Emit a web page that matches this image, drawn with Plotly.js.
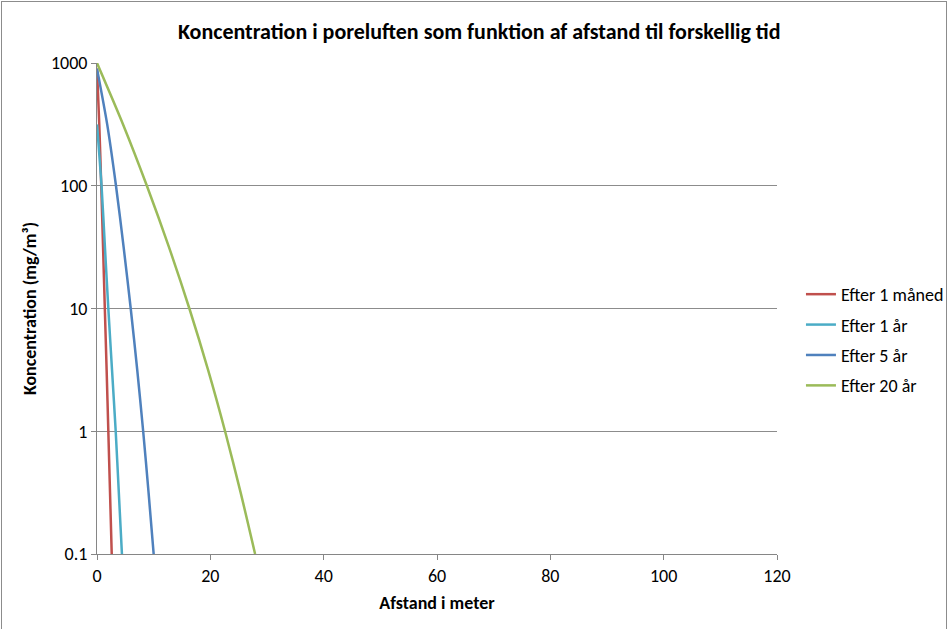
<!DOCTYPE html>
<html>
<head>
<meta charset="utf-8">
<script src="https://cdn.plot.ly/plotly-3.0.1.min.js"></script>
<style>
  html, body { margin: 0; padding: 0; background: #fff; }
  #wrap { position: relative; width: 949px; height: 629px; overflow: hidden; }
  #chart { width: 949px; height: 629px; }
  #frame { position: absolute; left: 1px; top: 1px; width: 944px; height: 640px; border: 1px solid #8c8c8c; pointer-events: none; }
</style>
</head>
<body>
<div id="wrap"><div id="chart"></div><div id="frame"></div></div>
<script>
// Series names
const seriesNames = ["Efter 1 måned", "Efter 1 år", "Efter 5 år", "Efter 20 år"];

// Distance (m) and concentration (mg/m³)
const xMaaned = [0, 0.4, 0.75, 1.07, 1.38, 1.7, 2.0, 2.3, 2.6];
const yMaaned = [900, 316, 100, 31.6, 10, 3.16, 1, 0.316, 0.1];

const xAar1 = [0, 0.8, 1.4, 2.0, 2.65, 3.3, 3.85, 4.4];
const yAar1 = [316, 100, 31.6, 10, 3.16, 1, 0.316, 0.1];

const xAar5 = [0, 1.8, 3.35, 4.7, 5.95, 7.1, 8.15, 9.1, 10.0];
const yAar5 = [900, 316, 100, 31.6, 10, 3.16, 1, 0.316, 0.1];

const xAar20 = [0, 4.6, 8.8, 12.7, 16.3, 19.6, 22.6, 25.35, 27.9];
const yAar20 = [1000, 316, 100, 31.6, 10, 3.16, 1, 0.316, 0.1];

const yTickVals = [0.1, 1, 10, 100, 1000];
const yTickText = ["0.1", "1", "10", "100", "1000"];
const xTickVals = [0, 20, 40, 60, 80, 100, 120];

const colors = ["#C0504D", "#4BACC6", "#4F81BD", "#9BBB59"];
const xs = [xMaaned, xAar1, xAar5, xAar20];
const ys = [yMaaned, yAar1, yAar5, yAar20];

const FONT = "Carlito, Calibri, 'Liberation Sans Narrow', 'Liberation Sans', sans-serif";

const traces = seriesNames.map((n, i) => ({
  type: "scatter",
  mode: "lines",
  name: n,
  legendgroup: "g" + i,
  x: xs[i],
  y: ys[i],
  line: { color: colors[i], width: 2.5, shape: "spline", smoothing: 0.8 },
  hoverinfo: "skip"
}));

const layout = {
  width: 949,
  height: 629,
  margin: { l: 97, r: 172, t: 63, b: 75, autoexpand: false },
  paper_bgcolor: "#ffffff",
  plot_bgcolor: "#ffffff",
  font: { family: FONT, size: 18, color: "#000" },
  title: {
    text: "<b>Koncentration i poreluften som funktion af afstand til forskellig tid</b>",
    font: { family: FONT, size: 22, color: "#000" },
    x: 0.505, xanchor: "center", y: 0.951, yanchor: "middle"
  },
  xaxis: {
    range: [0, 120],
    tickvals: xTickVals,
    ticks: "outside", ticklen: 5, tickcolor: "#868686",
    showline: true, linecolor: "#868686", linewidth: 1,
    showgrid: false, zeroline: false,
    tickfont: { family: FONT, size: 18 },
    title: { text: "<b>Afstand i meter</b>", font: { family: FONT, size: 18 }, standoff: 10 }
  },
  yaxis: {
    type: "log",
    range: [-1, 3],
    tickvals: yTickVals,
    ticktext: yTickText,
    ticks: "outside", ticklen: 5, tickcolor: "#868686",
    showline: true, linecolor: "#868686", linewidth: 1,
    showgrid: true, gridcolor: "#8c8c8c", gridwidth: 1,
    zeroline: false,
    tickfont: { family: FONT, size: 18 },
    title: { text: "<b>Koncentration (mg/m³)</b>", font: { family: FONT, size: 18 }, standoff: 9 }
  },
  showlegend: true,
  legend: {
    xref: "container", yref: "container",
    x: 0.844, xanchor: "left", y: 0.4595, yanchor: "middle",
    font: { family: FONT, size: 18 },
    tracegroupgap: 4,
    bgcolor: "rgba(0,0,0,0)"
  }
};

Plotly.newPlot("chart", traces, layout, { displayModeBar: false, staticPlot: true });
</script>
</body>
</html>
